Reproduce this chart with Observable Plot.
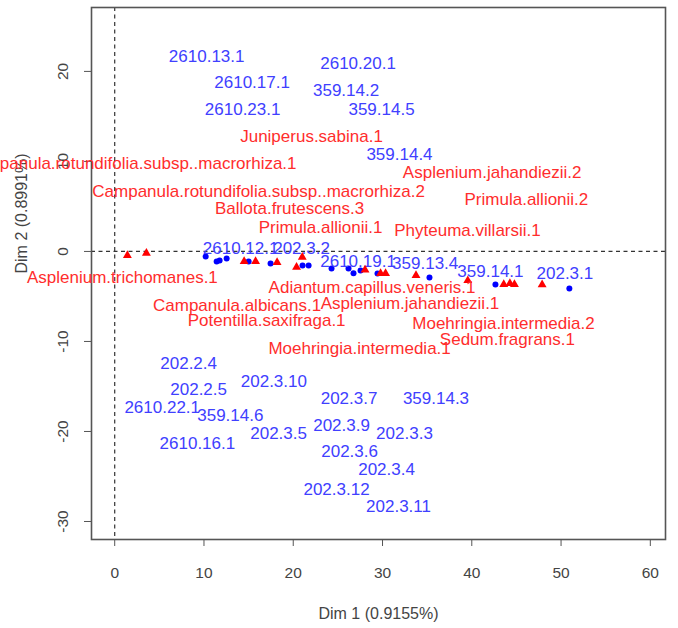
<!DOCTYPE html>
<html>
<head>
<meta charset="utf-8">
<script src="https://cdn.jsdelivr.net/npm/d3@7"></script>
<script src="https://cdn.jsdelivr.net/npm/@observablehq/plot@0.6"></script>
<style>
  html, body { margin: 0; padding: 0; background: #fff; }
  svg { display: block; font-family: "Liberation Sans", Arial, sans-serif; }
</style>
</head>
<body>
<div id="chart"></div>
<script>
// Row points (blue circles)
const rowX = [10.19, 11.42, 11.75, 12.54, 15.00, 17.46, 21.04, 21.72, 24.29, 26.19, 26.75, 27.54, 29.44, 35.26, 42.65, 50.93];
const rowY = [-0.56, -1.11, -1.00, -0.78, -1.11, -1.33, -1.56, -1.56, -1.89, -1.89, -2.41, -2.11, -2.45, -2.89, -3.67, -4.12];

// Column points (red triangles)
const colX = [1.42, 3.55, 14.50, 15.78, 18.19, 20.37, 21.01, 28.04, 29.78, 30.34, 33.75, 39.55, 43.58, 44.27, 44.78, 47.88];
const colY = [-0.44, -0.19, -1.11, -1.11, -1.22, -1.75, -0.63, -2.04, -2.45, -2.45, -2.67, -3.23, -3.67, -3.56, -3.67, -3.70];

// Row labels (blue)
const rowLabels = ["2610.13.1", "2610.17.1", "2610.23.1", "2610.20.1", "359.14.2", "359.14.5", "359.14.4",
  "2610.12.1", "202.3.2", "2610.19.1", "359.13.4", "359.14.1", "202.3.1",
  "202.2.4", "202.3.10", "202.2.5", "2610.22.1", "359.14.6", "202.3.5", "2610.16.1",
  "202.3.7", "359.14.3", "202.3.9", "202.3.3", "202.3.6", "202.3.4", "202.3.12", "202.3.11"];
const rowLabelX = [10.30, 15.39, 14.33, 27.26, 25.92, 29.89, 31.90,
  14.10, 20.93, 27.26, 34.78, 42.09, 50.43,
  8.28, 17.83, 9.40, 5.32, 12.95, 18.36, 9.26,
  26.25, 35.99, 25.41, 32.46, 26.31, 30.45, 24.85, 31.79];
const rowLabelY = [21.69, 18.80, 15.80, 20.86, 17.83, 15.80, 10.79,
  0.33, 0.33, -1.11, -1.30, -2.19, -2.48,
  -12.42, -14.43, -15.38, -17.39, -18.24, -20.28, -21.39,
  -16.38, -16.38, -19.35, -20.28, -22.21, -24.28, -26.40, -28.37];

// Column labels (red)
const colLabels = ["Juniperus.sabina.1", "Campanula.rotundifolia.subsp..macrorhiza.1", "Campanula.rotundifolia.subsp..macrorhiza.2",
  "Asplenium.jahandiezii.2", "Ballota.frutescens.3", "Primula.allionii.1", "Primula.allionii.2", "Phyteuma.villarsii.1",
  "Asplenium.trichomanes.1", "Adiantum.capillus.veneris.1", "Campanula.albicans.1", "Asplenium.jahandiezii.1",
  "Potentilla.saxifraga.1", "Moehringia.intermedia.2", "Sedum.fragrans.1", "Moehringia.intermedia.1"];
const colLabelX = [22.05, 1.74, 16.12, 42.28, 19.59, 23.06, 46.12, 39.52, 0.86, 28.83, 13.71, 33.08, 17.02, 43.55, 43.99, 27.43];
const colLabelY = [12.79, 9.79, 6.67, 8.75, 4.78, 2.64, 5.75, 2.34, -2.86, -3.97, -6.01, -5.75, -7.68, -7.98, -9.79, -10.82];

const xTicks = [0, 10, 20, 30, 40, 50, 60];
const yTicks = [-30, -20, -10, 0, 10, 20];
const xTitle = "Dim 1 (0.9155%)";
const yTitle = "Dim 2 (0.8991%)";

const rows = rowX.map((x, i) => ({x, y: rowY[i]}));
const cols = colX.map((x, i) => ({x, y: colY[i]}));
const rowLab = rowLabels.map((t, i) => ({t, x: rowLabelX[i], y: rowLabelY[i]}));
const colLab = colLabels.map((t, i) => ({t, x: colLabelX[i], y: colLabelY[i]}));

const plot = Plot.plot({
  width: 678,
  height: 628,
  marginLeft: 91,
  marginRight: 13,
  marginTop: 7,
  marginBottom: 89,
  style: {fontFamily: '"Liberation Sans", Arial, sans-serif', background: "#fff"},
  x: {domain: [-2.6, 61.7]},
  y: {domain: [-32.0, 27.1]},
  marks: [
    Plot.ruleX([0], {stroke: "#333", strokeDasharray: "4,3.5", strokeWidth: 1.2}),
    Plot.ruleY([0], {stroke: "#333", strokeDasharray: "4,3.5", strokeWidth: 1.2}),
    Plot.frame({stroke: "#555", strokeWidth: 1.6}),
    Plot.axisX(xTicks, {tickSize: 7, tickPadding: 20, fontSize: 15.5, fill: "#444", stroke: "#555", label: null}),
    Plot.axisY(yTicks, {tickSize: 7, tickFormat: () => "", stroke: "#555", label: null}),
    Plot.text(yTicks, {y: d => d, text: d => String(d), frameAnchor: "left", dx: -28, rotate: -90,
      textAnchor: "middle", lineAnchor: "middle", fontSize: 15.5, fill: "#444"}),
    Plot.text([xTitle], {text: d => d, frameAnchor: "bottom", dy: 74, lineAnchor: "middle", fontSize: 16, fill: "#444"}),
    Plot.text([yTitle], {text: d => d, frameAnchor: "left", dx: -70, rotate: -90, lineAnchor: "middle", fontSize: 16, fill: "#444"}),
    Plot.dot(rows, {x: "x", y: "y", r: 3, fill: "#0000ff", stroke: "none"}),
    Plot.text(rowLab, {x: "x", y: "y", text: "t", fill: "#4040ff", fontSize: 17, textAnchor: "middle", lineAnchor: "middle"}),
    Plot.dot(cols, {x: "x", y: "y", r: 3.3, symbol: "triangle", fill: "#ff0000", stroke: "none"}),
    Plot.text(colLab, {x: "x", y: "y", text: "t", fill: "#ff2d2d", fontSize: 17, textAnchor: "middle", lineAnchor: "middle"})
  ]
});
document.getElementById("chart").appendChild(plot);
</script>
</body>
</html>
